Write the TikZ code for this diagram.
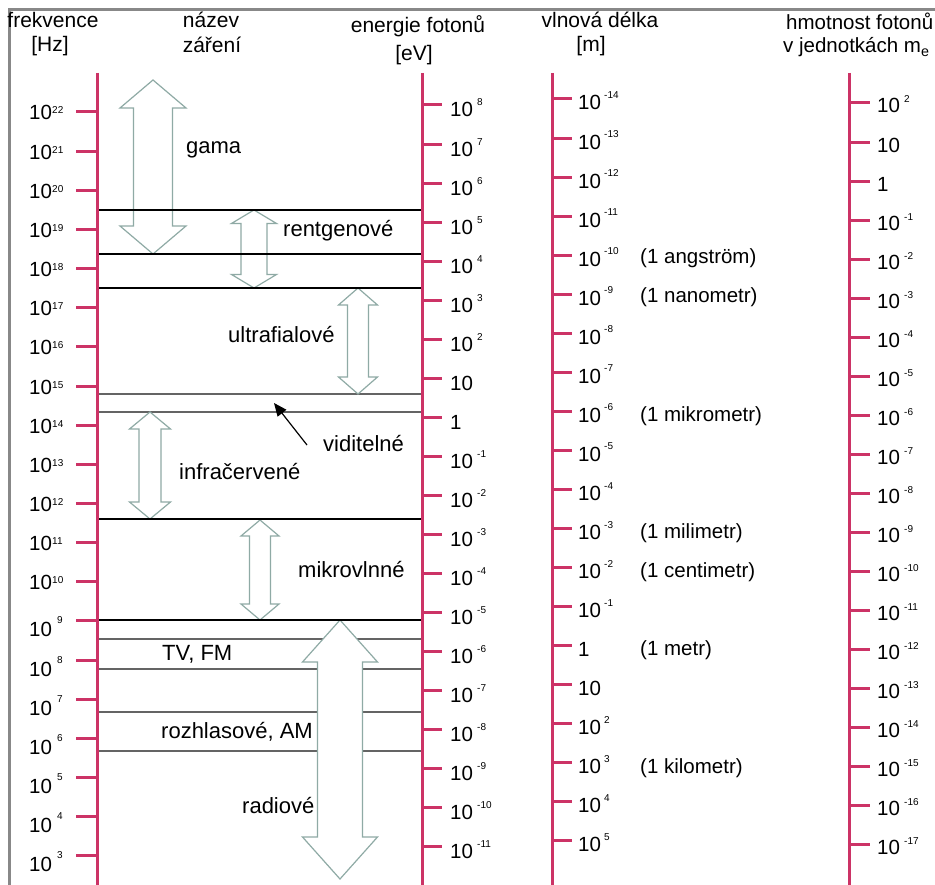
\documentclass[tikz,border=0pt]{standalone}
\usepackage{fontspec}
\setmainfont{Liberation Sans}
\usetikzlibrary{arrows.meta}
\definecolor{axiscol}{RGB}{204,51,102}
\definecolor{arrcol}{RGB}{143,170,165}
\definecolor{framecol}{RGB}{136,136,136}
\definecolor{thincol}{RGB}{100,100,100}
\newcommand\blockarrow[6]{%
  \draw[blockarr] (#1,#2) -- (#1+#4,#2+#6) -- (#1+#5,#2+#6) -- (#1+#5,#3-#6)
    -- (#1+#4,#3-#6) -- (#1,#3) -- (#1-#4,#3-#6) -- (#1-#5,#3-#6)
    -- (#1-#5,#2+#6) -- (#1-#4,#2+#6) -- cycle;}
\begin{document}
\begin{tikzpicture}[x=1pt,y=-1pt,
  axisline/.style={draw=axiscol,line width=3pt},
  axtick/.style={draw=axiscol,line width=3pt},
  thickband/.style={draw=black,line width=2.5pt},
  thinband/.style={draw=thincol,line width=1.2pt},
  blockarr/.style={draw=arrcol,fill=white,line width=1.2pt,line join=miter},
  lbl/.style={inner sep=0pt,anchor=base west,font=\fontsize{22}{22}\selectfont},
  num/.style={inner sep=0pt,anchor=base west,font=\fontsize{20.5}{20.5}\selectfont},
  supnum/.style={inner sep=0pt,anchor=base west,font=\fontsize{10}{10}\selectfont},
  note/.style={inner sep=0pt,anchor=base west,font=\fontsize{20.5}{20.5}\selectfont},
  hdr/.style={inner sep=0pt,anchor=base,font=\fontsize{21}{21}\selectfont},
  hdrw/.style={inner sep=0pt,anchor=base west,font=\fontsize{20.5}{20.5}\selectfont}]
\useasboundingbox (0,0) rectangle (935,885);
\clip (0,0) rectangle (935,885);
\fill[white] (0,0) rectangle (935,885);
% frame
\draw[framecol,line width=3pt] (9,886) -- (9,9.5) -- (936,9.5);
% headers
\node[hdr] (h1a) at (53,28) {frekvence};
\node[hdr] (h1b) at (50,52) {[Hz]};
\node[hdr] (h2a) at (211,28) {název};
\node[hdr] (h2b) at (212,53) {záření};
\node[hdr] (h3a) at (418,33) {energie fotonů};
\node[hdr] (h3b) at (414,61) {[eV]};
\node[hdr] (h4a) at (600,28) {vlnová délka};
\node[hdr] (h4b) at (591,52) {[m]};
\node[hdrw] (h5a) at (786,30) {hmotnost fotonů};
\node[hdrw] (h5b) at (783,53) {v jednotkách m\textsubscript{e}};
% thin band lines
\foreach \y in {394,412,639,669,712,751}
  \draw[thinband] (97,\y) -- (422,\y);
% block arrows
\blockarrow{153}{80}{254}{33}{19.5}{28}
\blockarrow{254}{210}{288}{22.5}{13}{13.5}
\blockarrow{358}{288}{394}{19.5}{10.5}{17}
\blockarrow{150}{412}{519}{20.5}{11}{17}
\blockarrow{260}{520}{620}{19}{10.5}{16}
\blockarrow{340}{620}{879}{37.5}{22.5}{42}
% thick band lines
\foreach \y in {210,254,288,519,620}
  \draw[thickband] (97,\y) -- (422,\y);
% axes
\draw[axisline] (97,73) -- (97,886);
\draw[axisline] (422,73) -- (422,886);
\draw[axisline] (552,73) -- (552,886);
\draw[axisline] (849,73) -- (849,886);
% frequency
\foreach \n [count=\i from 0] in {22,21,...,3}{
  \pgfmathsetmacro\ty{112+39.15*\i}
  \draw[axtick] (76,\ty) -- (97,\ty);
  \ifnum\n>9
    \node[num] (f\i) at (29,\ty+8) {10};
    \node[supnum] (fs\i) at (52,\ty+2) {\n};
  \else
    \node[num] (f\i) at (29,\ty+16) {10};
    \node[supnum] (fs\i) at (57,\ty+3) {\n};
  \fi
}
% energy
\foreach \b/\s [count=\i from 0] in {10/8,10/7,10/6,10/5,10/4,10/3,10/2,10/,1/,10/-1,10/-2,10/-3,10/-4,10/-5,10/-6,10/-7,10/-8,10/-9,10/-10,10/-11}{
  \pgfmathsetmacro\ty{105+39.05*\i}
  \draw[axtick] (422,\ty) -- (442,\ty);
  \node[num] (e\i) at (450,\ty+12) {\b};
  \node[supnum] (es\i) at (477,\ty+1) {\s};
}
% wavelength
\foreach \b/\s [count=\i from 0] in {10/-14,10/-13,10/-12,10/-11,10/-10,10/-9,10/-8,10/-7,10/-6,10/-5,10/-4,10/-3,10/-2,10/-1,1/,10/,10/2,10/3,10/4,10/5}{
  \pgfmathsetmacro\ty{99+39.05*\i}
  \draw[axtick] (552,\ty) -- (572,\ty);
  \node[num] (w\i) at (578,\ty+11) {\b};
  \node[supnum] (ws\i) at (604,\ty-0.5) {\s};
}
% mass
\foreach \b/\s [count=\i from 0] in {10/2,10/,1/,10/-1,10/-2,10/-3,10/-4,10/-5,10/-6,10/-7,10/-8,10/-9,10/-10,10/-11,10/-12,10/-13,10/-14,10/-15,10/-16,10/-17}{
  \pgfmathsetmacro\ty{103+39.05*\i}
  \draw[axtick] (849,\ty) -- (870,\ty);
  \node[num] (m\i) at (877,\ty+10) {\b};
  \node[supnum] (ms\i) at (904,\ty) {\s};
}
% wavelength notes
\node[note] (n1) at (640,264) {(1 angström)};
\node[note] (n2) at (640,303) {(1 nanometr)};
\node[note] (n3) at (640,421) {(1 mikrometr)};
\node[note] (n4) at (640,538) {(1 milimetr)};
\node[note] (n5) at (640,577) {(1 centimetr)};
\node[note] (n6) at (640,655) {(1 metr)};
\node[note] (n7) at (640,773) {(1 kilometr)};
% band labels
\node[lbl] (gama) at (186,154) {gama};
\node[lbl] (rtg) at (283,237) {rentgenové};
\node[lbl] (uv) at (228,343) {ultrafialové};
\node[lbl] (vid) at (323,451) {viditelné};
\node[lbl] (ir) at (179,479) {infračervené};
\node[lbl] (mw) at (298,577) {mikrovlnné};
\node[lbl] (tv) at (162,660) {TV, FM};
\node[lbl] (am) at (161,738) {rozhlasové, AM};
\node[lbl] (rad) at (242,813) {radiové};
% pointer to visible band
\coordinate (vidtail) at (307,445);
\coordinate (vidtip) at (274,403);
\draw[line width=1.2pt,-{Triangle[length=13pt,width=11pt]}] (vidtail) -- (vidtip);
\end{tikzpicture}
\end{document}
